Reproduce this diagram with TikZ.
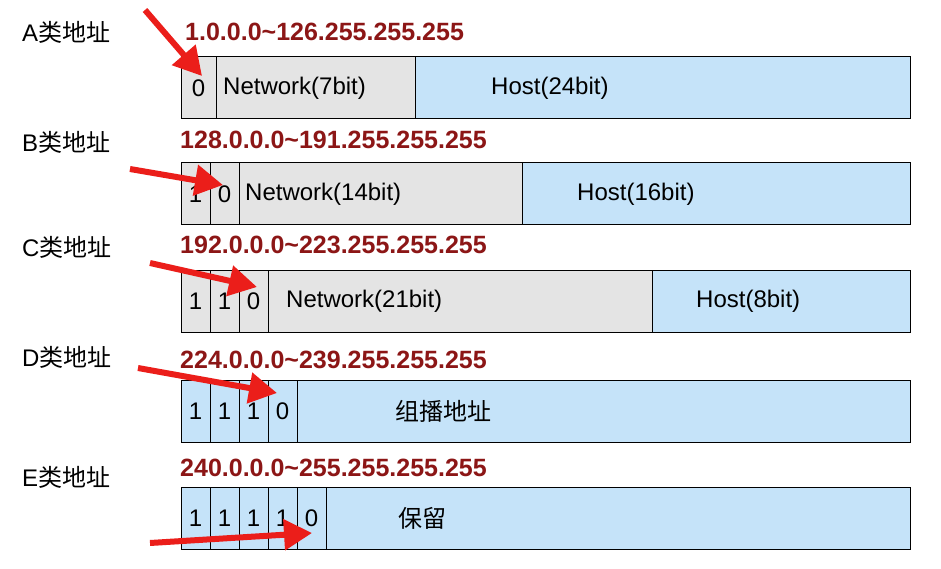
\documentclass[tikz,border=0pt]{standalone}
\usepackage{fontspec}
\setmainfont{Liberation Sans}
\newfontfamily\cjk{Noto Sans CJK SC}
\usetikzlibrary{positioning,arrows.meta}
\definecolor{netgray}{RGB}{228,228,228}
\definecolor{hostblue}{RGB}{197,227,249}
\definecolor{rangered}{RGB}{140,22,22}
\definecolor{arrowred}{RGB}{235,30,26}
\newcommand{\bitfont}{\fontsize{24}{28}\selectfont}
\newcommand{\rangefont}{\fontsize{25}{29}\selectfont\bfseries}

\begin{document}
\begin{tikzpicture}[x=1pt,y=-1pt,
	field/.style={draw=black,line width=1pt,outer sep=0pt,inner sep=0pt,minimum height=62pt,font=\bitfont},
	netfield/.style={field,fill=netgray},
	hostfield/.style={field,fill=hostblue},
	bitcell/.style={minimum width=29pt,anchor=north west},
	fieldtext/.style={font=\bitfont,inner sep=0pt,anchor=west},
	classlabel/.style={font=\bitfont,inner sep=0pt,anchor=west},
	rangetext/.style={font=\rangefont,text=rangered,inner sep=0pt,anchor=west},
	pointer/.style={draw=arrowred,line width=6pt,-{Triangle[length=28pt,width=30pt]}}]
	
	\fill[white] (0,0) rectangle (941,569);
	\useasboundingbox (0,0) rectangle (941,569);
	
	\node[classlabel] (la) at (22,32) {A\cjk 类地址};
	\node[rangetext] (ra) at (185,32) {1.0.0.0\textasciitilde 126.255.255.255};
	\node[netfield,minimum width=35pt,anchor=north west] (a1) at (181,57) {0};
	\node[netfield,minimum width=199pt,right=0pt of a1] (a2) {};
	\node[hostfield,minimum width=495pt,right=0pt of a2] (a3) {};
	\node[fieldtext,right=7pt of a2.west] (ta2) {Network(7bit)};
	\node[fieldtext,right=76pt of a3.west] (ta3) {Host(24bit)};
	
	\node[classlabel] (lb) at (22,142) {B\cjk 类地址};
	\node[rangetext] (rb) at (180,140) {128.0.0.0\textasciitilde 191.255.255.255};
	\foreach \b [count=\i] in {1,0}
		\node[netfield,bitcell] (b\i) at ({181+29*(\i-1)},163) {\b};
	\node[netfield,minimum width=283pt,right=0pt of b2] (b3) {};
	\node[hostfield,minimum width=388pt,right=0pt of b3] (b4) {};
	\node[fieldtext,right=6pt of b3.west] (tb3) {Network(14bit)};
	\node[fieldtext,right=55pt of b4.west] (tb4) {Host(16bit)};
	
	\node[classlabel] (lc) at (22,247) {C\cjk 类地址};
	\node[rangetext] (rc) at (180,245) {192.0.0.0\textasciitilde 223.255.255.255};
	\foreach \b [count=\i] in {1,1,0}
		\node[netfield,bitcell] (c\i) at ({181+29*(\i-1)},270) {\b};
	\node[netfield,minimum width=384pt,right=0pt of c3] (c4) {};
	\node[hostfield,minimum width=258pt,right=0pt of c4] (c5) {};
	\node[fieldtext,right=18pt of c4.west] (tc4) {Network(21bit)};
	\node[fieldtext,right=44pt of c5.west] (tc5) {Host(8bit)};
	
	\node[classlabel] (ld) at (22,357) {D\cjk 类地址};
	\node[rangetext] (rd) at (180,360) {224.0.0.0\textasciitilde 239.255.255.255};
	\foreach \b [count=\i] in {1,1,1,0}
		\node[hostfield,bitcell] (d\i) at ({181+29*(\i-1)},380) {\b};
	\node[hostfield,minimum width=613pt,right=0pt of d4] (d5) {};
	\node[fieldtext,right=98pt of d5.west] (td5) {\cjk 组播地址};
	
	\node[classlabel] (le) at (22,477) {E\cjk 类地址};
	\node[rangetext] (re) at (180,468) {240.0.0.0\textasciitilde 255.255.255.255};
	\foreach \b [count=\i] in {1,1,1,1,0}
		\node[hostfield,bitcell] (e\i) at ({181+29*(\i-1)},487) {\b};
	\node[hostfield,minimum width=584pt,right=0pt of e5] (e6) {};
	\node[fieldtext,right=72pt of e6.west] (te6) {\cjk 保留};
	
	\coordinate (pa) at (145,10);
	\coordinate (pb) at (130,169);
	\coordinate (pc) at (150,263);
	\coordinate (pd) at (138,368);
	\coordinate (pe) at (150,543);
	\draw[pointer] (pa) -- ([xshift=3.5pt,yshift=12pt]a1.center);
	\draw[pointer] (pb) -- ([xshift=-1.5pt,yshift=9pt]b2.center);
	\draw[pointer] (pc) -- ([xshift=3.5pt,yshift=14pt]c3.center);
	\draw[pointer] (pd) -- ([xshift=-5.5pt,yshift=18pt]d4.center);
	\draw[pointer] (pe) -- ([xshift=0.5pt,yshift=-15pt]e5.center);
\end{tikzpicture}
\end{document}
